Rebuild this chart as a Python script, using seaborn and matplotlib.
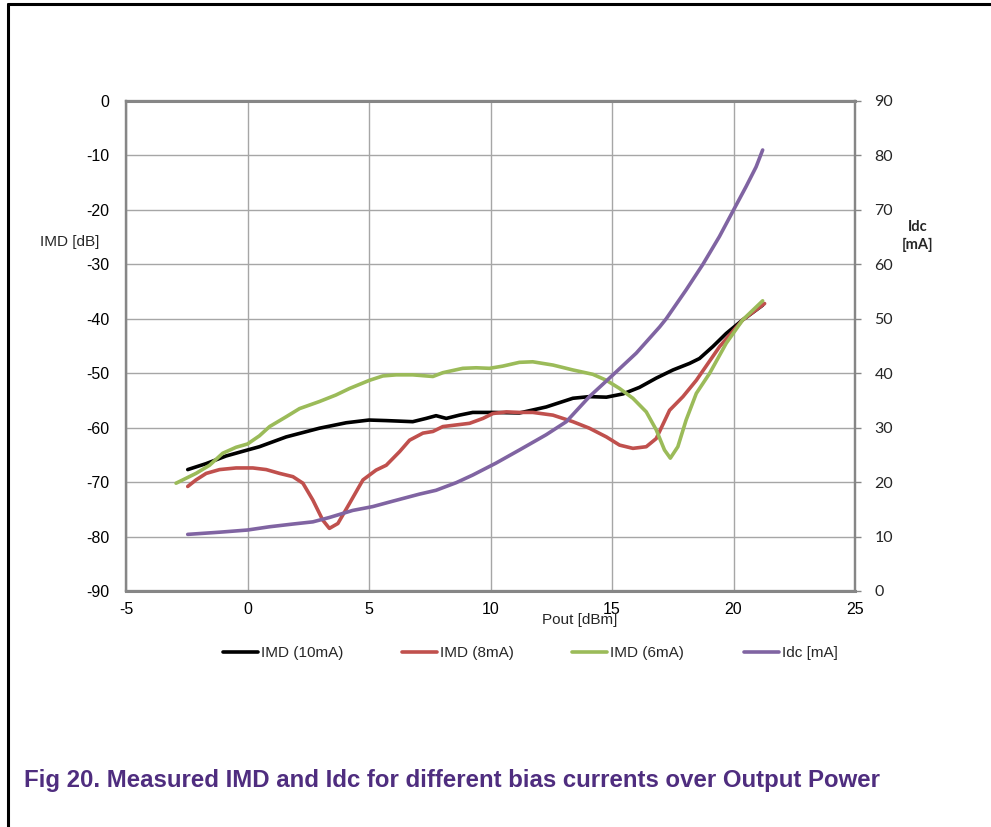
import numpy as np
import pandas as pd
import matplotlib
matplotlib.use("Agg")
import matplotlib.pyplot as plt
from matplotlib.lines import Line2D
import seaborn as sns

# IMD (10mA)
pout_10 = [-2.46, -1.70, -0.88, 0.0, 0.49, 1.59, 2.96, 4.06, 5.0, 5.71, 6.80, 7.35,
           7.76, 8.18, 8.72, 9.27, 10.1, 11.19, 12.29, 13.39, 14.07, 14.77, 15.45,
           16.13, 16.82, 17.51, 18.19, 18.6, 19.15, 19.7, 20.38, 21.2]
imd_10 = [-67.7, -66.6, -65.2, -64.1, -63.5, -61.7, -60.1, -59.1, -58.6, -58.7, -58.9,
          -58.3, -57.8, -58.3, -57.7, -57.2, -57.2, -57.3, -56.2, -54.6, -54.3, -54.4,
          -53.8, -52.6, -50.9, -49.4, -48.2, -47.3, -45.1, -42.7, -40.2, -37.5]

# IMD (8mA)
pout_8 = [-2.46, -2.12, -1.70, -1.15, -0.47, 0.22, 0.77, 1.32, 1.87, 2.28, 2.69, 3.10,
          3.37, 3.72, 4.2, 4.75, 5.29, 5.71, 6.26, 6.67, 7.22, 7.63, 8.04, 9.14, 9.69,
          10.1, 10.65, 11.19, 11.74, 12.57, 13.39, 14.07, 14.77, 15.31, 15.86, 16.41,
          16.82, 17.37, 17.92, 18.47, 19.43, 20.38, 21.28]
imd_8 = [-70.8, -69.6, -68.4, -67.7, -67.4, -67.4, -67.7, -68.4, -69.0, -70.2, -73.3,
         -77.0, -78.5, -77.6, -73.9, -69.6, -67.8, -66.9, -64.4, -62.3, -61.0, -60.7,
         -59.8, -59.2, -58.3, -57.4, -57.1, -57.2, -57.2, -57.7, -58.9, -60.1, -61.7,
         -63.2, -63.8, -63.5, -62.0, -56.8, -54.3, -51.3, -45.1, -40.2, -37.2]

# IMD (6mA)
pout_6 = [-2.94, -2.53, -2.12, -1.56, -1.02, -0.47, 0.0, 0.49, 0.91, 1.59, 2.14, 2.96,
          3.64, 4.2, 5.02, 5.57, 6.12, 6.8, 7.63, 8.04, 8.86, 9.41, 9.96, 10.5, 11.19,
          11.74, 12.57, 13.39, 14.21, 14.77, 15.31, 15.86, 16.41, 16.82, 17.16, 17.4,
          17.71, 18.05, 18.47, 19.02, 19.7, 20.38, 21.2]
imd_6 = [-70.2, -69.3, -68.4, -66.9, -64.7, -63.6, -63.0, -61.5, -59.8, -58.0, -56.5,
         -55.2, -54.0, -52.8, -51.3, -50.5, -50.3, -50.3, -50.6, -49.9, -49.1, -49.0,
         -49.1, -48.7, -48.0, -47.9, -48.5, -49.4, -50.2, -51.3, -52.8, -54.6, -57.1,
         -60.4, -64.1, -65.6, -63.5, -58.6, -53.7, -50.0, -44.5, -40.2, -36.7]

# Idc [mA]
pout_idc = [-2.46, -1.15, 0.0, 0.91, 1.87, 2.69, 3.37, 4.33, 5.15, 5.98, 7.08, 7.76,
            8.59, 9.27, 10.23, 11.19, 12.29, 13.12, 14.07, 15.04, 16.0, 16.96, 17.23,
            18.05, 18.74, 19.42, 20.04, 20.52, 20.93, 21.2]
idc = [10.4, 10.8, 11.2, 11.8, 12.3, 12.7, 13.5, 14.8, 15.5, 16.5, 17.8, 18.5, 19.9,
       21.3, 23.5, 25.9, 28.7, 31.1, 35.7, 39.7, 43.7, 48.5, 50.0, 55.3, 60.0, 65.1,
       70.3, 74.3, 77.9, 81.0]

series_names = ["IMD (10mA)", "IMD (8mA)", "IMD (6mA)"]
colors = {"IMD (10mA)": "#000000", "IMD (8mA)": "#C0504D",
          "IMD (6mA)": "#9BBB59", "Idc [mA]": "#8064A2"}

x_ticks = list(range(-5, 26, 5))
imd_ticks = list(range(-90, 1, 10))
idc_ticks = list(range(0, 91, 10))

sns.set_style("white")
plt.rcParams["font.family"] = ["Liberation Sans", "DejaVu Sans"]
plt.rcParams["axes.unicode_minus"] = False
plt.rcParams["lines.solid_joinstyle"] = "round"
plt.rcParams["lines.solid_capstyle"] = "round"

imd_df = pd.concat([
    pd.DataFrame({"pout": pout_10, "imd": imd_10, "series": series_names[0]}),
    pd.DataFrame({"pout": pout_8, "imd": imd_8, "series": series_names[1]}),
    pd.DataFrame({"pout": pout_6, "imd": imd_6, "series": series_names[2]}),
], ignore_index=True)
idc_df = pd.DataFrame({"pout": pout_idc, "idc": idc})

fig = plt.figure(figsize=(9.91, 8.27), dpi=100)
ax = fig.add_axes([126 / 991, 1 - 591 / 827, 729 / 991, 490 / 827])
ax2 = ax.twinx()

grid_col = "#A6A6A6"
axis_col = "#868686"

ax.set_xlim(-5, 25)
ax.set_ylim(-90, 0)
ax.set_xticks(x_ticks)
ax.set_yticks(imd_ticks)
ax.grid(True, color=grid_col, linewidth=1.0)
ax.set_axisbelow(True)

ax2.set_ylim(0, 90)
ax2.set_yticks(idc_ticks)

sns.lineplot(data=imd_df, x="pout", y="imd", hue="series", palette=colors,
             sort=False, estimator=None, linewidth=2.6, legend=False, ax=ax)
sns.lineplot(data=idc_df, x="pout", y="idc", color=colors["Idc [mA]"],
             sort=False, estimator=None, linewidth=2.6, legend=False, ax=ax2)

for a in (ax, ax2):
    a.set_xlabel("")
    a.set_ylabel("")
    for side in ("left", "right", "top", "bottom"):
        a.spines[side].set_color(axis_col)
        a.spines[side].set_linewidth(1.6)
ax.spines["top"].set_linewidth(2.2)
ax.spines["bottom"].set_linewidth(2.2)

ax.tick_params(axis="both", length=0, labelsize=11.5, colors="black")
ax.tick_params(axis="y", pad=12)
ax.tick_params(axis="x", pad=8)
ax2.tick_params(axis="y", length=4, width=1, color=axis_col, pad=10, labelsize=11.5)
for lab in ax2.get_yticklabels():
    lab.set_fontfamily(["Lato", "DejaVu Sans"])

fig.text(580 / 991, 1 - 620 / 827, "Pout [dBm]", ha="center", va="center", fontsize=11)
fig.text(70 / 991, 1 - 242 / 827, "IMD [dB]", ha="center", va="center", fontsize=11)
fig.text(918 / 991, 1 - 236 / 827, "Idc\n[mA]", ha="center", va="center", fontsize=10.5,
         fontweight="bold", family=["Lato", "DejaVu Sans"], linespacing=1.3)

# legend entries sit below the plot at uneven spacing, as in the original
legend_x = [223, 402, 572, 744]
for name, lx in zip(colors, legend_x):
    h = Line2D([0], [0], color=colors[name], linewidth=2.6)
    fig.legend([h], [name], loc="center left", frameon=False, borderpad=0,
               borderaxespad=0, bbox_to_anchor=(lx / 991, 1 - 653 / 827),
               fontsize=11, handlelength=2.3, handletextpad=0.2)

fig.text(24 / 991, 1 - 781 / 827,
         "Fig 20. Measured IMD and Idc for different bias currents over Output Power",
         ha="left", va="center", fontsize=17.3, fontweight="bold", color="#4F2D7F")

# page frame (top and left edges)
fig.add_artist(Line2D([8 / 991, 1], [1 - 4 / 827, 1 - 4 / 827], color="black",
                      linewidth=2.2, transform=fig.transFigure))
fig.add_artist(Line2D([8 / 991, 8 / 991], [0, 1 - 4 / 827], color="black",
                      linewidth=2.2, transform=fig.transFigure))

fig.savefig("out.png", dpi=100)
plt.close(fig)
